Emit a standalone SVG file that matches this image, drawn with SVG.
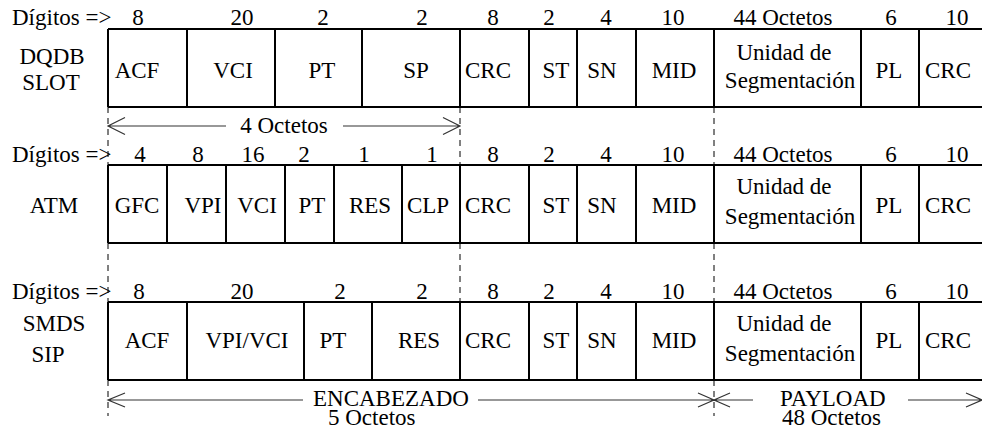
<svg xmlns="http://www.w3.org/2000/svg" width="982" height="429" viewBox="0 0 982 429">
<style>
text{font-family:"Liberation Serif",Tinos,"Times New Roman","DejaVu Serif",serif;font-size:23px;fill:#000}
.m{text-anchor:middle}
.box{stroke:#000;stroke-width:2;fill:none}
.dash{stroke:#000;stroke-width:1;stroke-dasharray:6 5;fill:none}
.arr{stroke:#333;stroke-width:1.2;fill:none}
</style>
<rect width="982" height="429" fill="#fff"/>
<g id="connectors">
<path class="dash" d="M108 107V165M108 243V302M108 380V416M460 107V165M460 243V302M714 107V165M714 243V302M714 380V416"/>
<path class="arr" d="M108 126H226M343 126H460M125 117.5L108 126L125 134.5M443 117.5L460 126L443 134.5"/>
<path class="arr" d="M108 400H303M478 400H753M908 400H982M125 393L108 400L125 407M698 393L714 400L698 407M730 393L714 400L730 407M966 393L982 400L966 407"/>
</g>
<g id="row-dqdb">
<path class="box" d="M108 29H982M108 107H982M108 29V107M187 29V107M275 29V107M362 29V107M460 29V107M529 29V107M577 29V107M636 29V107M714 29V107M861 29V107M919 29V107"/>
<text x="12" y="25">Dígitos =&gt;</text>
<text class="m" x="138" y="25">8</text><text class="m" x="242" y="25">20</text><text class="m" x="323" y="25">2</text><text class="m" x="422" y="25">2</text>
<text class="m" x="493" y="25">8</text><text class="m" x="549" y="25">2</text><text class="m" x="606" y="25">4</text><text class="m" x="673" y="25">10</text><text class="m" x="783" y="25">44 Octetos</text><text class="m" x="891" y="25">6</text><text class="m" x="957" y="25">10</text>
<text class="m" x="52" y="64">DQDB</text><text class="m" x="51" y="90">SLOT</text>
<text class="m" x="137" y="78">ACF</text><text class="m" x="233" y="78">VCI</text><text class="m" x="322" y="78">PT</text><text class="m" x="416" y="78">SP</text>
<text class="m" x="488" y="78">CRC</text><text class="m" x="556" y="78">ST</text><text class="m" x="602" y="78">SN</text><text class="m" x="674" y="78">MID</text>
<text class="m" x="784" y="60">Unidad de</text><text class="m" x="790" y="88">Segmentación</text>
<text class="m" x="889" y="78">PL</text><text class="m" x="948" y="78">CRC</text>
<text class="m" x="284" y="133">4 Octetos</text>
</g>
<g id="row-atm">
<path class="box" d="M108 165H982M108 243H982M108 165V243M167 165V243M226 165V243M285 165V243M334 165V243M402 165V243M460 165V243M529 165V243M577 165V243M636 165V243M714 165V243M861 165V243M919 165V243"/>
<text x="12" y="162">Dígitos =&gt;</text>
<text class="m" x="140" y="162">4</text><text class="m" x="198" y="162">8</text><text class="m" x="253" y="162">16</text><text class="m" x="304" y="162">2</text><text class="m" x="364" y="162">1</text><text class="m" x="432" y="162">1</text>
<text class="m" x="493" y="162">8</text><text class="m" x="549" y="162">2</text><text class="m" x="606" y="162">4</text><text class="m" x="673" y="162">10</text><text class="m" x="783" y="162">44 Octetos</text><text class="m" x="891" y="162">6</text><text class="m" x="957" y="162">10</text>
<text class="m" x="54" y="213">ATM</text>
<text class="m" x="137" y="213">GFC</text><text class="m" x="203" y="213">VPI</text><text class="m" x="257" y="213">VCI</text><text class="m" x="312" y="213">PT</text><text class="m" x="370" y="213">RES</text><text class="m" x="428" y="213">CLP</text>
<text class="m" x="488" y="213">CRC</text><text class="m" x="556" y="213">ST</text><text class="m" x="602" y="213">SN</text><text class="m" x="674" y="213">MID</text>
<text class="m" x="784" y="194">Unidad de</text><text class="m" x="790" y="224">Segmentación</text>
<text class="m" x="889" y="213">PL</text><text class="m" x="948" y="213">CRC</text>
</g>
<g id="row-smds">
<path class="box" d="M108 302H982M108 380H982M108 302V380M187 302V380M304 302V380M372 302V380M460 302V380M529 302V380M577 302V380M636 302V380M714 302V380M861 302V380M919 302V380"/>
<text x="12" y="299">Dígitos =&gt;</text>
<text class="m" x="139" y="299">8</text><text class="m" x="242" y="299">20</text><text class="m" x="340" y="299">2</text><text class="m" x="422" y="299">2</text>
<text class="m" x="493" y="299">8</text><text class="m" x="549" y="299">2</text><text class="m" x="606" y="299">4</text><text class="m" x="673" y="299">10</text><text class="m" x="783" y="299">44 Octetos</text><text class="m" x="891" y="299">6</text><text class="m" x="957" y="299">10</text>
<text class="m" x="54" y="331">SMDS</text><text class="m" x="48" y="362">SIP</text>
<text class="m" x="147" y="348">ACF</text><text class="m" x="247" y="348">VPI/VCI</text><text class="m" x="333" y="348">PT</text><text class="m" x="419" y="348">RES</text>
<text class="m" x="488" y="348">CRC</text><text class="m" x="556" y="348">ST</text><text class="m" x="602" y="348">SN</text><text class="m" x="674" y="348">MID</text>
<text class="m" x="784" y="331">Unidad de</text><text class="m" x="790" y="361">Segmentación</text>
<text class="m" x="889" y="348">PL</text><text class="m" x="948" y="348">CRC</text>
<text><tspan x="313" y="406">ENCABEZADO</tspan><tspan x="328" y="425">5 Octetos</tspan></text>
<text><tspan x="780" y="406">PAYLOAD</tspan><tspan x="782" y="425">48 Octetos</tspan></text>
</g>
</svg>
